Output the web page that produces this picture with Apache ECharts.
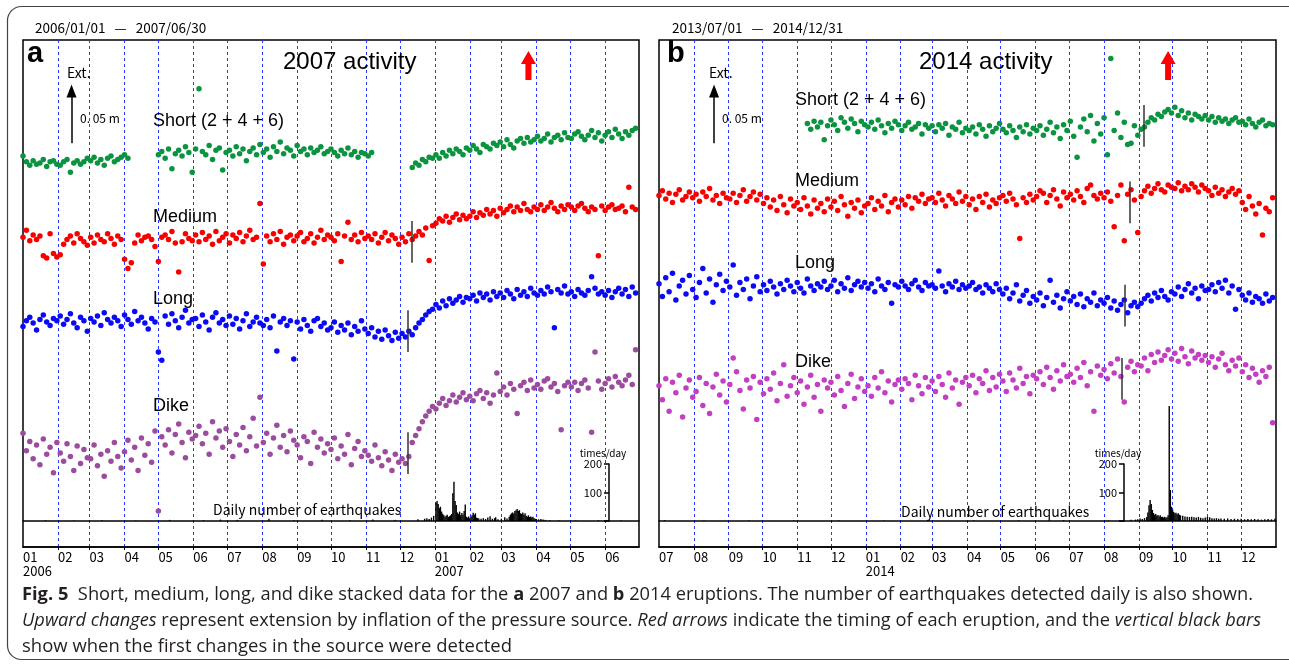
<!DOCTYPE html>
<html>
<head>
<meta charset="utf-8">
<script src="https://cdn.jsdelivr.net/npm/echarts@6/dist/echarts.min.js"></script>
<style>
html, body { margin: 0; padding: 0; background: #fff; }
#chart { width: 1289px; height: 670px; }
</style>
</head>
<body>
<div id="chart"></div>
<script>
// stacked strain data, values in mm relative to each trace's own level,
// one value every 3rd day from the panel start (null = no data)
const STEP = 3;

// ---- panel a : 2006/01/01 - 2007/06/30 ----
const shortA = [
  6, 1, -2, 2, -1, 0, 3, -3, 1, 2, -1,            // 2006 Jan
  -2, 1, 3, -8, 0, 2, -1, 1, 4,                   // Feb
  2, 5, 0, 3, -2, 4, 6, 1, 3, 5,                  // Mar
  7, 4, null, null, null, null, null, null, null, null, // Apr
  7, 10, 4, 12, -5, 8, 11, 6, 14, 9, -8,          // May
  12, 64, 10, 7, 15, 3, 11, 13, -6, 9,            // Jun
  11, 6, 14, 8, 12, 2, 10, 13, 7, 16,             // Jul
  9, 12, 5, 14, 10, 18, 8, 13, 11, 6,             // Aug
  15, 10, 12, 7, 13, 9, 11, 14, 8, 10,            // Sep
  12, 9, 6, 11, 8, 13, 7, 10, 5, 9, 8,            // Oct
  6, 9, null, null, null, null, null, null, null, null, // Nov
  null, null, null, -4, 0, -2, 3, 1, 5, 4,        // Dec
  7, 4, 9, 6, 11, 8, 12, 10, 7, 13,               // 2007 Jan
  11, 15, 12, 9, 16, 14, 12, 17, 15,              // Feb
  18, 14, 20, 16, 13, 19, 21, 17, 22, 18, 20,     // Mar
  23, 19, 21, 25, 18, 22, 24, 20, 26, 22,         // Apr
  21, 25, 27, 23, 20, 24, 28, 22, 26, 19,         // May
  24, 27, 22, 29, 25, 21, 27, 24, 28, 30          // Jun
];
const mediumA = [
  2, 8, -1, 4, 0, 3, -14, -16, 5, -12, -15,
  -13, -4, 0, 3, -3, 5, 1, -2, -5,
  2, -3, 4, 0, -2, 5, 1, -4, 3, 0,
  -17, -25, -20, -3, 4, -1, 2, 3, 0, -6,
  -19, 2, 4, 0, 7, -3, -28, -2, 5, 1, -1,
  4, -2, 6, 0, 3, -4, 7, -1, 2, 5,
  -3, 4, 1, 6, -2, 3, 8, 0, 2, 31,
  -21, 3, -2, 5, 0, 7, -4, 2, 4, -1,
  3, 6, -2, 1, 5, -3, 2, 8, 0, 4,
  2, -1, 5, -19, 3, 15, 0, 4, -2, 6, 1,
  3, 0, 5, -3, 2, 6, -1, 4, 1, -4,
  2, -2, 5, 0, 3, 7, 4, 10, -18, 12,
  14, 18, 16, 20, 15, 19, 22, 17, 21, 18,
  20, 24, 19, 23, 21, 26, 22, 25, 20,
  27, 23, 26, 29, 24, 28, 25, 31, 26, 24, 28,
  26, 30, 25, 28, 32, 27, 24, 29, 26, 30,
  28, 25, 29, 31, 27, 24, 28, 26, -14, 29,
  25, 28, 30, 26, 27, 29, 24, 45, 28, 26
];
const longA = [
  -3, 2, 5, 0, -6, 3, 7, 1, -2, 4, 2,
  6, -1, 3, 8, 0, -4, 5, 2, -7,
  4, 1, 6, -2, 9, 3, 0, 5, 2, -3,
  7, 3, -1, 10, 2, 5, 0, -5, 4, 1,
  -25, -32, 6, -1, 8, 2, -4, 5, 11, 0, 3,
  4, -3, 7, 1, -6, 5, 9, 0, 3, -2,
  6, -1, 4, -5, 2, 8, -3, 1, 5, 0,
  -2, 3, -4, 6, -24, 1, 4, -2, 2, -31,
  1, -5, 3, -2, -7, 2, 4, -3, 0, -6,
  -4, 1, -8, -2, -6, 0, -10, -3, -7, 2, -5,
  -9, -4, -12, -7, -14, -6, -11, -15, -8, -13,
  -9, -12, -7, -10, -4, 0, 3, 7, 10, 12,
  16, 13, 19, 15, 21, 17, 20, 23, 18, 22,
  21, 24, 19, 26, 22, 25, 20, 27, 23,
  26, 22, 28, 25, 21, 29, 24, 27, 23, 30, 26,
  24, 28, 25, 31, 27, -4, 29, 26, 32, 25,
  27, 23, 29, 26, 24, 28, 40, 30, 25, 27,
  24, 28, 22, 27, 30, 25, 29, 23, 31, 26
];
const dikeA = [
  12, -3, 5, -10, 2, -15, 7, -6, 0, -22, 4,
  -5, -12, 3, -8, -20, 1, -14, -2, -9,
  -10, 2, -16, -6, -25, -3, -12, 4, -8, -18,
  -4, 6, -11, 0, -20, 8, -7, 3, -13, 14,
  -55, 9, 2, 15, -5, 11, 20, 4, -9, 13, 7,
  10, 18, 3, 12, -6, 22, 8, 14, 0, 16,
  5, -8, 11, 2, 17, -3, 9, 25, 1, 43,
  4, 12, -6, 8, 19, 0, 10, -4, 14, 6,
  2, -9, 9, 5, -14, 13, 0, 7, -5, 3,
  -2, 8, -10, 1, -6, 11, -15, -1, 5, -8, -3,
  -7, -12, 2, -9, -16, -4, -11, -20, -6, -13,
  -10, -14, -8, 4, 10, 16, 22, 27, 31, 35,
  33, 38, 42, 36, 40, 45, 39, 43, 47, 41,
  44, 40, 46, 49, 42, 47, 38, 45, 64,
  48, 52, 45, 55, 50, 29, 53, 56, 49, 58, 51,
  54, 50, 57, 59, 52, 55, 48, 15, 53, 56,
  52, 56, 49, 55, 58, 51, 13, 82, 57, 50,
  55, 59, 52, 61, 56, 53, 58, 62, 54, 84
];
// daily number of earthquakes, [day index, count]
const quakesA = [
  [20, 3], [45, 2], [70, 3], [100, 2], [130, 4], [160, 3], [175, 5], [190, 4], [218, 8], [240, 3],
  [265, 4], [290, 3], [310, 5], [330, 4], [350, 6], [356, 8], [358, 10], [360, 7], [362, 12], [364, 18],
  [366, 64], [367, 70], [368, 60], [369, 45], [370, 50], [371, 33], [372, 25], [373, 20], [374, 15], [375, 18],
  [376, 22], [377, 14], [378, 17], [379, 20], [380, 25], [381, 97], [382, 138], [383, 70], [384, 56], [385, 30],
  [386, 25], [387, 33], [388, 20], [389, 28], [390, 22], [391, 35], [392, 58], [393, 15], [394, 12], [395, 16],
  [396, 10], [397, 14], [398, 20], [399, 29], [400, 22], [401, 27], [402, 12], [403, 10], [404, 9], [406, 8],
  [408, 10], [410, 7], [412, 12], [414, 17], [416, 8], [418, 10], [419, 13], [421, 6], [424, 8], [427, 13],
  [429, 9], [431, 15], [432, 22], [433, 27], [434, 30], [435, 26], [436, 35], [437, 38], [438, 42], [439, 35],
  [440, 38], [441, 27], [442, 25], [443, 30], [444, 22], [445, 27], [446, 18], [447, 15], [448, 20], [449, 14],
  [450, 16], [451, 12], [452, 15], [453, 10], [454, 8], [455, 7], [457, 6], [459, 7], [461, 5], [463, 4],
  [467, 3], [475, 3], [490, 2], [510, 3], [530, 2]
];

// ---- panel b : 2013/07/01 - 2014/12/31 ----
const shortBStart = 44;   // first sample (Nov 2013)
const shortB = [
  3, -2, 5, 0, 4, -11, 1,                          // 2013 Nov
  6, 2, -3, 8, 4, -1, 7, 3, -4, 5, 2,              // Dec
  0, 4, -2, 6, 1, -5, 3, -1, 5, 2,                 // 2014 Jan
  -3, 1, 4, -2, 0, 3, -6, 2, -1,                   // Feb
  1, -4, 2, -1, 3, -7, 0, -2, 4, -5, -1,           // Mar
  -3, 0, -6, 2, -2, -8, 1, -4, -1, 3,              // Apr
  -2, -5, 1, -3, -9, 0, -4, 2, -6, -1,             // May
  -3, 1, -7, -2, 4, -5, 0, -10, 2, -3,             // Jun
  5, -8, -26, 0, 7, -4, 10, -12, 3, -6,            // Jul
  8, -24, 59, -3, 12, -9, 4, -15, -14, 1, -7,      // Aug
  -2, 0, 4, 8, 6, 11, 9, 13, 15, 12,               // Sep
  17, 10, 14, 8, 12, 6, 11, 9, 7, 10,              // Oct
  6, 9, 4, 8, 5, 7, 3, 6, 8, 4,                    // Nov
  5, 2, 7, 3, 0, 4, 6, 1, 3, 2                     // Dec
];
const mediumB = [
  4, 8, 1, 6, -2, 5, 9, 0, 3, 7, 2,
  5, -1, 7, 3, 10, 0, 4, -3, 6, 2,
  1, 6, -2, 4, 9, -1, 3, 7, 0, 5,
  -3, 2, -6, 0, -9, 3, -4, -11, 1, -5,
  -2, -8, 2, -5, -12, 0, -7, -3, -10, 1,
  -6, -1, -9, 3, -4, -14, -2, -7, 0, -11, -5,
  -3, 2, -8, -1, -5, 4, -10, -2, 1, -6,
  0, -4, 3, -7, 2, -1, 5, -3, 1,
  2, -2, 6, 0, -5, 4, 1, -3, 7, -1, 3,
  -4, 1, -8, 3, -2, 5, -6, 0, -3, 2,
  4, -1, 6, 1, -4, -33, 2, -2, 5, 0,
  3, 8, 6, -2, 4, 9, 1, -5, 7, 2,
  5, 0, 8, 3, -2, 10, 13, 4, 1, 6,
  2, 7, -1, -23, 4, 13, -35, 5, 9, 0, -28,
  3, 8, 12, 6, 10, 14, 9, 7, 13, 11,
  10, 15, 8, 12, 9, 14, 11, 7, 13, 10,
  8, 4, 11, 6, 9, 3, 7, 10, 5, 8,
  -2, -8, 3, -5, -12, -3, -30, -7, -10, 2
];
const longB = [
  5, -6, 10, -2, 14, -9, 3, 8, -4, 12, 0,
  -7, 6, 18, -3, 9, -11, 4, 13, -1, 7,
  2, 21, -5, 6, 0, 9, -8, 3, 11, -2,
  4, -1, 7, 2, -4, 5, 0, 8, 3, -2,
  6, 1, -3, 9, 3, -1, 5, 2, 7, 0,
  3, 8, -2, 5, 1, 10, -1, 4, 7, 2, 6,
  1, 5, -2, 9, 3, 0, 6, -12, 4, 2,
  7, 3, 0, 5, 8, 2, -1, 6, 3,
  4, 1, 16, 3, -2, 5, 2, 7, 0, 4, 1,
  3, 6, 0, 2, -3, 4, 1, -2, 5, 0,
  -4, 1, -8, -3, 4, -10, -5, -1, -12, -6,
  -9, -3, -14, -7, 8, -11, -5, -16, -8, -2,
  -10, -6, -13, -4, -15, -8, -11, -3, -14, -9,
  -12, -7, -16, -10, -18, -13, -9, -20, -14, -11, -15,
  -12, -8, -5, -10, -3, -7, -1, -6, -9, -2,
  -4, 2, -6, 0, 5, -3, 1, -8, 3, -1,
  0, 4, -2, 6, 1, 8, -3, 3, -17, 0,
  -5, -9, -3, -11, -6, -8, -12, -4, -10, -7
];
const dikeB = [
  2, -10, 8, -20, 5, -4, 11, -25, 0, 7, -8,
  -3, 9, -15, 4, -22, 1, 12, -6, 6, -12,
  3, 26, 14, -2, -18, 7, 0, 10, -27, 5,
  -5, 8, -1, 13, -11, 4, 20, -7, 2, 9,
  -4, 6, -14, 1, 11, -8, 3, -20, 7, 0,
  5, -6, 10, -2, -16, 4, 12, -9, 1, 8, -3,
  2, -7, 9, 0, 14, -4, 6, -12, 3, 7,
  -1, 8, 4, -10, 11, 2, -5, 9, 1,
  6, -3, 10, 3, -8, 13, 0, 7, -14, 5, 9,
  2, 11, -4, 8, 4, 15, -2, 9, 1, 12,
  6, -3, 13, 7, 0, 17, 4, 10, -5, 11,
  8, 14, 3, 18, 9, -1, 15, 6, 20, 10,
  12, 5, 17, 9, 22, 2, 14, -20, 19, 11,
  16, 8, 21, 13, 25, 10, -12, 18, 23, 14, 20,
  19, 26, 15, 29, 22, 31, 24, 28, 33, 25,
  30, 23, 34, 27, 21, 32, 26, 29, 24, 28,
  22, 27, 18, 25, 30, 20, 15, 24, 19, 26,
  14, 20, 9, 17, 12, 5, 15, 10, 18, -30
];
const quakesB = [
  [5, 3], [40, 2], [80, 2], [120, 3], [160, 2], [200, 2], [240, 3], [280, 2], [320, 2], [360, 3],
  [400, 2], [420, 4], [424, 5], [426, 6], [428, 9], [430, 7], [432, 10], [434, 14], [435, 30], [436, 55],
  [437, 74], [438, 60], [439, 39], [440, 28], [441, 22], [442, 25], [443, 18], [444, 21], [445, 16], [446, 20],
  [447, 14], [448, 15], [449, 12], [450, 15], [451, 11], [452, 13], [453, 20], [454, 404], [455, 109], [456, 50],
  [457, 40], [458, 32], [459, 27], [460, 29], [461, 24], [462, 27], [463, 22], [464, 20], [466, 18], [468, 16],
  [470, 15], [472, 14], [474, 15], [476, 13], [478, 12], [480, 14], [482, 11], [484, 10], [486, 12], [488, 15],
  [490, 13], [492, 10], [494, 9], [496, 10], [498, 8], [500, 9], [503, 8], [506, 9], [509, 7], [512, 8],
  [515, 7], [518, 8], [521, 6], [524, 7], [527, 6], [530, 7], [533, 6], [536, 5], [539, 6], [542, 7],
  [545, 6], [548, 8]
];

// first detected change in the source: [day index, low mm, high mm]
const changeA = { medium: [345, -20, 16], long: [341, -25, 11], dike: [341, -23, 13] };
const changeB = { short: [431, -17, 19], medium: [419, -20, 16], long: [414, -32, 4], dike: [412, -10, 26] };
// eruption day index (red arrows)
const eruptA = 448, eruptB = 453;
// 0.05 m extension scale bar
const scaleDayA = 43, scaleDayB = 49;

// ---- layout ----
const FONT_UI = '"Liberation Sans", Arial, sans-serif';
const FONT_JP = '"Noto Sans CJK JP", "Noto Sans", sans-serif';
const MM_MAX = 437;       // main y range (mm) over the panel height
const COUNT_MAX = 1688;   // count range over the bar area
const ARROW_LEVEL = 415;
const SCALE_BASE = 348, SCALE_TOP = 393;
const ARROW = 'path://M7.5,0L15,13L10.5,13L10.5,29L4.5,29L4.5,13L0,13Z';

function makeDays(start, n) {
  const t0 = Date.UTC(+start.slice(0, 4), +start.slice(5, 7) - 1, +start.slice(8, 10));
  const out = [];
  for (let i = 0; i < n; i++) out.push(new Date(t0 + i * 864e5).toISOString().slice(0, 10));
  return out;
}

function pts(vals, off, start) {
  const s = start || 0;
  const out = [];
  vals.forEach((v, i) => { if (v !== null) out.push([(s + i) * STEP, off + v]); });
  return out;
}

const grids = [], xAxes = [], yAxes = [], series = [];

function vbar(days, c, off) {
  return [{ coord: [days[c[0]], off + c[1]], symbol: 'none' }, { coord: [days[c[0]], off + c[2]], symbol: 'none' }];
}

function panel(p) {
  const gi = grids.length;
  const n = p.days.length;
  const isMonth = v => v.slice(8) === '01';
  grids.push({ left: p.left, top: 40, width: p.width, height: 507, show: true, borderColor: '#000', borderWidth: 1.5, outerBoundsMode: 'none' });
  grids.push({ left: p.left, top: 40, width: p.width, height: 481, outerBoundsMode: 'none' });
  grids.push({ left: p.miniX - 50, top: 464, width: 50, height: 57, outerBoundsMode: 'none' });

  xAxes.push({
    gridIndex: gi, type: 'category', data: p.days, boundaryGap: false,
    axisLine: { show: true, lineStyle: { color: '#000', width: 1.5 } },
    axisTick: { show: true, interval: (i, v) => isMonth(v) && i > 0 && i < n - 1, length: 3, lineStyle: { color: '#000' } },
    axisLabel: {
      interval: (i, v) => isMonth(v) && i < n - 1,
      formatter: v => v.slice(5, 7) === '01' ? '01\n' + v.slice(0, 4) : v.slice(5, 7),
      align: 'left', margin: 3, fontFamily: FONT_JP, fontSize: 13, color: '#000', lineHeight: 14
    },
    splitLine: { show: true, interval: (i, v) => isMonth(v) && i > 0 && i < n - 1, lineStyle: { color: '#2a35ff', width: 1, type: [3, 3] } }
  });
  xAxes.push({
    gridIndex: gi + 1, type: 'category', data: p.days, boundaryGap: false,
    axisLine: { show: true, lineStyle: { color: '#000', width: 1.5 } },
    axisTick: { show: false }, axisLabel: { show: false }, splitLine: { show: false }
  });
  xAxes.push({ gridIndex: gi + 2, type: 'value', min: 0, max: 1, show: false });

  yAxes.push({ gridIndex: gi, type: 'value', min: 0, max: MM_MAX, show: false });
  yAxes.push({ gridIndex: gi + 1, type: 'value', min: 0, max: COUNT_MAX, show: false });
  yAxes.push({
    gridIndex: gi + 2, type: 'value', min: 0, max: 200, interval: 100, position: 'right',
    axisLine: { show: true, onZero: false, lineStyle: { color: '#000', width: 1.5 } },
    axisTick: { show: true, inside: true, length: 5, lineStyle: { color: '#000', width: 1.5 } },
    axisLabel: { inside: true, margin: 7, formatter: v => v ? String(v) : '', fontFamily: FONT_JP, fontSize: 11, color: '#000' },
    splitLine: { show: false },
    name: 'times/day', nameLocation: 'end', nameGap: 6,
    nameTextStyle: { fontFamily: FONT_JP, fontSize: 10, color: '#000', align: 'center', padding: [0, 12, 0, 0] }
  });

  const lineStyle = { color: '#333', width: 1.5, type: 'solid' };
  p.traces.forEach(t => {
    const s = {
      type: 'scatter', xAxisIndex: gi, yAxisIndex: gi, symbolSize: 5.5, silent: true,
      itemStyle: { color: t.color, opacity: 1 },
      data: pts(t.vals, t.off, t.start)
    };
    const lines = [];
    if (t.change) lines.push(vbar(p.days, t.change, t.off));
    if (t.scale) {
      lines.push([
        { coord: [p.days[p.scaleDay], SCALE_BASE], symbol: 'none', lineStyle: { color: '#000', width: 1.5 } },
        { coord: [p.days[p.scaleDay], SCALE_TOP], symbol: 'triangle', symbolSize: [10, 13] }
      ]);
      s.markPoint = {
        symbol: ARROW, symbolSize: [15, 29], silent: true, itemStyle: { color: '#ff0000' },
        label: { show: false }, data: [{ coord: [p.days[p.erupt], ARROW_LEVEL] }]
      };
    }
    if (lines.length) {
      s.markLine = { silent: true, symbol: 'none', label: { show: false }, lineStyle, data: lines };
    }
    series.push(s);
  });
  series.push({
    type: 'bar', xAxisIndex: gi + 1, yAxisIndex: gi + 1, barWidth: 1.4, silent: true,
    itemStyle: { color: '#000' }, data: p.quakes
  });
}

const daysA = makeDays('2006-01-01', 547);
const daysB = makeDays('2013-07-01', 550);

panel({
  left: 23, width: 616, miniX: 609, days: daysA, quakes: quakesA, erupt: eruptA, scaleDay: scaleDayA,
  traces: [
    { vals: shortA, off: 331, color: '#0b9440', scale: true },
    { vals: mediumA, off: 265, color: '#f80000', change: changeA.medium },
    { vals: longA, off: 193, color: '#0a0af5', change: changeA.long },
    { vals: dikeA, off: 86, color: '#9b4c9e', change: changeA.dike }
  ]
});
panel({
  left: 659, width: 617, miniX: 1124, days: daysB, quakes: quakesB, erupt: eruptB, scaleDay: scaleDayB,
  traces: [
    { vals: shortB, start: shortBStart, off: 362, color: '#0b9440', scale: true, change: changeB.short },
    { vals: mediumB, off: 299, color: '#f80000', change: changeB.medium },
    { vals: longB, off: 222, color: '#0a0af5', change: changeB.long },
    { vals: dikeB, off: 137, color: '#c23fc2', change: changeB.dike }
  ]
});

// ---- texts ----
function txt(x, y, text, size, family, extra) {
  return {
    type: 'text', x, y, silent: true, z: 50,
    style: Object.assign({
      text, fontSize: size, fontFamily: family, fill: '#000',
      align: 'left', textAlign: 'left', verticalAlign: 'middle', textVerticalAlign: 'middle'
    }, extra || {})
  };
}

const graphics = [
  { type: 'rect', silent: true, z: 0, shape: { x: 7.5, y: 6.5, width: 1310, height: 653, r: 14 }, style: { fill: 'none', stroke: '#444', lineWidth: 1.2 } },
  txt(27, 54, 'a', 29, FONT_UI, { fontWeight: 'bold' }),
  txt(283, 62, '2007 activity', 24, FONT_UI),
  txt(35, 28, '2006/01/01   \u2014   2007/06/30', 13.5, FONT_JP),
  txt(67, 73, 'Ext.', 14, FONT_JP),
  txt(80, 118, '0. 05 m', 12, FONT_JP),
  txt(153, 121, 'Short (2 + 4 + 6)', 18, FONT_UI),
  txt(153, 217, 'Medium', 18, FONT_UI),
  txt(153, 299, 'Long', 18, FONT_UI),
  txt(153, 406, 'Dike', 18, FONT_UI),
  txt(213, 510, 'Daily number of earthquakes', 14, FONT_JP),
  txt(667, 54, 'b', 29, FONT_UI, { fontWeight: 'bold' }),
  txt(919, 62, '2014 activity', 24, FONT_UI),
  txt(672, 28, '2013/07/01   \u2014   2014/12/31', 13.5, FONT_JP),
  txt(709, 73, 'Ext.', 14, FONT_JP),
  txt(722, 118, '0. 05 m', 12, FONT_JP),
  txt(795, 100, 'Short (2 + 4 + 6)', 18, FONT_UI),
  txt(795, 181, 'Medium', 18, FONT_UI),
  txt(795, 263, 'Long', 18, FONT_UI),
  txt(795, 362, 'Dike', 18, FONT_UI),
  txt(901, 512, 'Daily number of earthquakes', 14, FONT_JP)
];

// caption, squeezed horizontally to the original condensed width
const CAP_SIZE = 17.5, CAP_FONT = 'Open Sans', CAP_COLOR = '#231f20';
const capLines = [
  [['b', 'Fig. 5'], ['n', '  Short, medium, long, and dike stacked data for the '], ['b', 'a'], ['n', ' 2007 and '], ['b', 'b'], ['n', ' 2014 eruptions. The number of earthquakes detected daily is also shown.']],
  [['i', 'Upward changes'], ['n', ' represent extension by inflation of the pressure source. '], ['i', 'Red arrows'], ['n', ' indicate the timing of each eruption, and the '], ['i', 'vertical black bars']],
  [['n', 'show when the first changes in the source were detected']]
];
const capWidths = [1231, 1239, 490];
const capY = [595, 621, 647];
const mctx = document.createElement('canvas').getContext('2d');
const fontOf = k => (k === 'i' ? 'italic ' : '') + (k === 'b' ? 'bold ' : '') + CAP_SIZE + 'px "' + CAP_FONT + '"';
const rich = {
  n: { fontSize: CAP_SIZE, fontFamily: CAP_FONT, fill: CAP_COLOR },
  b: { fontSize: CAP_SIZE, fontFamily: CAP_FONT, fill: CAP_COLOR, fontWeight: 'bold' },
  i: { fontSize: CAP_SIZE, fontFamily: CAP_FONT, fill: CAP_COLOR, fontStyle: 'italic' }
};
capLines.forEach((segs, li) => {
  let w = 0;
  segs.forEach(s => { mctx.font = fontOf(s[0]); w += mctx.measureText(s[1]).width; });
  graphics.push({
    type: 'text', x: 22, y: capY[li], scaleX: capWidths[li] / w, silent: true, z: 50,
    style: {
      text: segs.map(s => '{' + s[0] + '|' + s[1] + '}').join(''), rich,
      fontSize: CAP_SIZE, fontFamily: CAP_FONT, fill: CAP_COLOR,
      align: 'left', textAlign: 'left', verticalAlign: 'middle', textVerticalAlign: 'middle'
    }
  });
});

const chart = echarts.init(document.getElementById('chart'), null, { renderer: 'canvas' });
chart.setOption({
  animation: false,
  backgroundColor: '#fff',
  grid: grids,
  xAxis: xAxes,
  yAxis: yAxes,
  series,
  graphic: graphics
});
</script>
</body>
</html>
